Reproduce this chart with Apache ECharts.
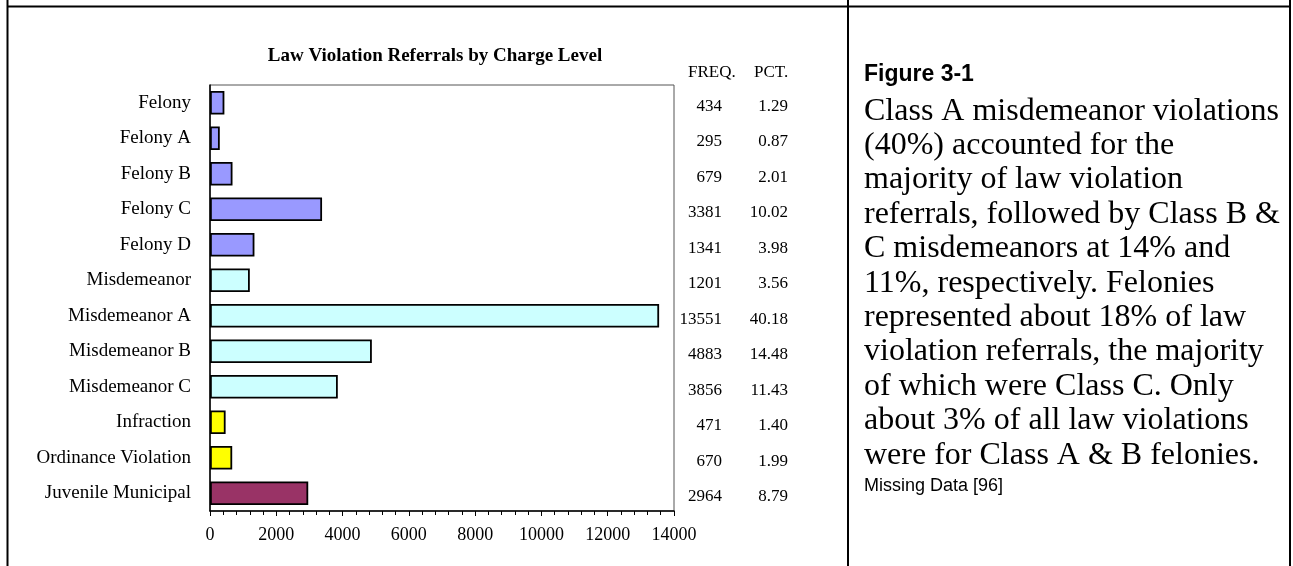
<!DOCTYPE html>
<html>
<head>
<meta charset="utf-8">
<title>Law Violation Referrals by Charge Level</title>
<script src="https://cdn.jsdelivr.net/npm/echarts@6/dist/echarts.min.js"></script>
<style>
  html, body { margin: 0; padding: 0; background: #fff; }
  #chart { width: 1293px; height: 566px; }
</style>
</head>
<body>
<div id="chart"></div>
<script>
  // data
  var categories = ['Felony', 'Felony A', 'Felony B', 'Felony C', 'Felony D', 'Misdemeanor',
    'Misdemeanor A', 'Misdemeanor B', 'Misdemeanor C', 'Infraction', 'Ordinance Violation', 'Juvenile Municipal'];
  var groups = ['felony', 'felony', 'felony', 'felony', 'felony', 'misd',
    'misd', 'misd', 'misd', 'infr', 'infr', 'juv'];
  var freq = [434, 295, 679, 3381, 1341, 1201, 13551, 4883, 3856, 471, 670, 2964];
  var pct = [1.29, 0.87, 2.01, 10.02, 3.98, 3.56, 40.18, 14.48, 11.43, 1.40, 1.99, 8.79];
  var xTicks = [0, 2000, 4000, 6000, 8000, 10000, 12000, 14000];

  var caption = [
    'Class A misdemeanor violations',
    '(40%) accounted for the',
    'majority of law violation',
    'referrals, followed by Class B &',
    'C misdemeanors at 14% and',
    '11%, respectively. Felonies',
    'represented about 18% of law',
    'violation referrals, the majority',
    'of which were Class C. Only',
    'about 3% of all law violations',
    'were for Class A & B felonies.'
  ];

  var groupColor = {
    felony: '#9999FF',
    misd: '#CCFFFF',
    infr: '#FFFF00',
    juv: '#993366'
  };

  var serif = "'Liberation Serif', 'Times New Roman', serif";
  var sans = "'Liberation Sans', Arial, sans-serif";

  var barData = freq.map(function (v, i) {
    return { value: v, itemStyle: { color: groupColor[groups[i]] } };
  });

  var chart = echarts.init(document.getElementById('chart'));
  chart.setOption({
    animation: false,
    backgroundColor: '#fff',
    title: {
      text: 'Law Violation Referrals by Charge Level',
      left: 430,
      top: 42,
      textAlign: 'center',
      textStyle: {
        fontFamily: serif,
        fontWeight: 'bold',
        fontSize: 19,
        color: '#000'
      }
    },
    grid: {
      left: 210,
      right: 619,
      top: 85,
      bottom: 55,
      show: true,
      borderColor: '#555',
      borderWidth: 1
    },
    xAxis: {
      type: 'value',
      min: xTicks[0],
      max: xTicks[xTicks.length - 1],
      interval: xTicks[1] - xTicks[0],
      axisLine: { show: true, lineStyle: { color: '#000', width: 1.5 } },
      axisTick: { show: true, length: 5, lineStyle: { color: '#000' } },
      minorTick: { show: true, splitNumber: 5, length: 4, lineStyle: { color: '#000' } },
      splitLine: { show: false },
      axisLabel: {
        margin: 15,
        fontFamily: serif,
        fontSize: 18,
        color: '#000',
        formatter: function (v) { return String(v); }
      }
    },
    yAxis: [{
      type: 'category',
      data: categories,
      inverse: true,
      axisLine: { show: true, lineStyle: { color: '#000', width: 1.5 } },
      axisTick: { show: false },
      axisLabel: {
        margin: 19,
        fontFamily: serif,
        fontSize: 19,
        color: '#000'
      }
    }, {
      type: 'category',
      data: categories,
      inverse: true,
      position: 'right',
      axisLine: { show: false },
      axisTick: { show: false },
      axisLabel: {
        margin: 0,
        padding: [7, 0, 0, 0],
        formatter: function (value, index) {
          return '{f|' + freq[index] + '}{p|' + pct[index].toFixed(2) + '}';
        },
        rich: {
          f: { width: 48, align: 'right', fontFamily: serif, fontSize: 17, color: '#000' },
          p: { width: 66, align: 'right', fontFamily: serif, fontSize: 17, color: '#000' }
        }
      }
    }],
    series: [{
      type: 'bar',
      yAxisIndex: 0,
      data: barData,
      barCategoryGap: '34%',
      itemStyle: { borderColor: '#000', borderWidth: 1.8 }
    }],
    graphic: [
      // table rules
      { type: 'line', shape: { x1: 7.5, y1: 0, x2: 7.5, y2: 566 }, style: { stroke: '#000', lineWidth: 2 } },
      { type: 'line', shape: { x1: 848, y1: 0, x2: 848, y2: 566 }, style: { stroke: '#000', lineWidth: 2 } },
      { type: 'line', shape: { x1: 1290, y1: 0, x2: 1290, y2: 566 }, style: { stroke: '#000', lineWidth: 2 } },
      { type: 'line', shape: { x1: 7, y1: 6.5, x2: 1291, y2: 6.5 }, style: { stroke: '#000', lineWidth: 2 } },
      // column headers
      { type: 'text', left: 688, top: 64, style: { text: 'FREQ.', fontFamily: serif, fontSize: 17, fill: '#000' } },
      { type: 'text', left: 754, top: 64, style: { text: 'PCT.', fontFamily: serif, fontSize: 17, fill: '#000' } },
      // caption
      { type: 'text', left: 864, top: 63, style: { text: 'Figure 3-1', fontFamily: sans, fontWeight: 'bold', fontSize: 23, fill: '#000' } },
      {
        type: 'text', left: 864, top: 94,
        style: {
          text: caption.join('\n'),
          fontFamily: serif,
          fontSize: 32,
          lineHeight: 34.4,
          fill: '#000'
        }
      },
      { type: 'text', left: 864, top: 477, style: { text: 'Missing Data [96]', fontFamily: sans, fontSize: 18, fill: '#000' } }
    ]
  });
</script>
</body>
</html>
